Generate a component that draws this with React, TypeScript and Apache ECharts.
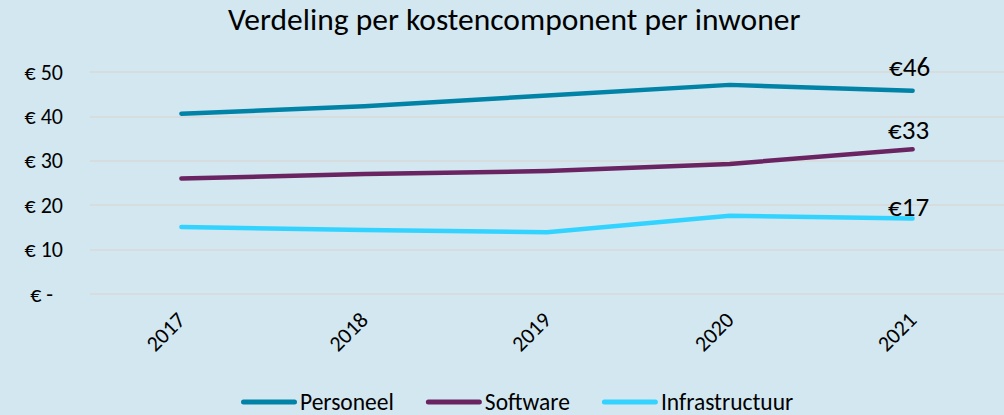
import React, { useEffect, useRef } from "react";
import * as echarts from "echarts";

const years = ["2017", "2018", "2019", "2020", "2021"];
const personeel = [40.6, 42.3, 44.7, 47.1, 45.8];
const software = [26.0, 27.0, 27.7, 29.3, 32.6];
const infrastructuur = [15.1, 14.4, 13.9, 17.6, 17.0];
const endLabels = ["€46", "€33", "€17"];
const seriesNames = ["Personeel", "Software", "Infrastructuur"];
const colors = ["#0083A6", "#6A2462", "#33D3FF"];
const labelOffsets = [[-3, -24], [-4, -20], [-4, -12]];

const FONT = "Carlito, Lato, sans-serif";
const LEGEND_ICON =
  "path://M2.5,0 L53.5,0 A2.5,2.5 0 0 1 53.5,5 L2.5,5 A2.5,2.5 0 0 1 2.5,0 Z";

export default function App() {
  const ref = useRef<HTMLDivElement>(null);
  useEffect(() => {
    if (!ref.current) return;
    const chart = echarts.init(ref.current, null, { renderer: "svg" });
    const all = [personeel, software, infrastructuur];
    const series = all.map((vals, si) => ({
      name: seriesNames[si],
      type: "line",
      symbol: "circle",
      symbolSize: 1,
      showSymbol: true,
      smooth: false,
      lineStyle: { width: 4.5, color: colors[si], cap: "round", join: "round" },
      itemStyle: { color: colors[si] },
      data: vals.map((v, i) =>
        i === vals.length - 1
          ? {
              value: v,
              label: {
                show: true,
                position: "inside",
                offset: labelOffsets[si],
                formatter: endLabels[si],
                color: "#000",
                fontSize: 27,
                fontFamily: FONT,
              },
            }
          : v
      ),
    }));
    chart.setOption({
      animation: false,
      backgroundColor: "#D2E7F0",
      textStyle: { fontFamily: FONT },
      title: {
        text: "Verdeling per kostencomponent per inwoner",
        left: 228,
        top: 3,
        padding: 0,
        textStyle: { fontSize: 31.5, fontWeight: "normal", color: "#000", fontFamily: FONT },
      },
      legend: {
        data: seriesNames,
        icon: LEGEND_ICON,
        top: 390,
        left: 241,
        padding: 0,
        itemWidth: 56,
        itemHeight: 5,
        itemGap: 32,
        textStyle: {
          fontSize: 23.5,
          lineHeight: 22,
          color: "#000",
          fontFamily: FONT,
          padding: [0, 0, 0, -2],
        },
      },
      grid: { left: 90, right: -5, top: 72, bottom: 121, containLabel: false },
      xAxis: {
        type: "category",
        data: years,
        boundaryGap: true,
        axisLine: { show: false },
        axisTick: { show: false },
        axisLabel: {
          rotate: 45,
          margin: 22,
          fontSize: 22,
          color: "#000",
          fontFamily: FONT,
        },
      },
      yAxis: {
        type: "value",
        min: 0,
        max: 50,
        interval: 10,
        axisLine: { show: false },
        axisTick: { show: false },
        splitLine: { lineStyle: { color: "#D9D9D9", width: 1.5 } },
        axisLabel: {
          margin: 27,
          fontSize: 22,
          color: "#000",
          fontFamily: FONT,
          formatter: (v: number) => (v === 0 ? "{z|€ -}" : "€ " + v),
          rich: { z: { fontSize: 22, color: "#000", fontFamily: FONT, padding: [0, 10, 0, 0] } },
        },
      },
      series,
    });
    return () => chart.dispose();
  }, []);
  return (
    <div
      ref={ref}
      style={{ width: 1004, height: 415, position: "fixed", left: 0, top: 0 }}
    />
  );
}
